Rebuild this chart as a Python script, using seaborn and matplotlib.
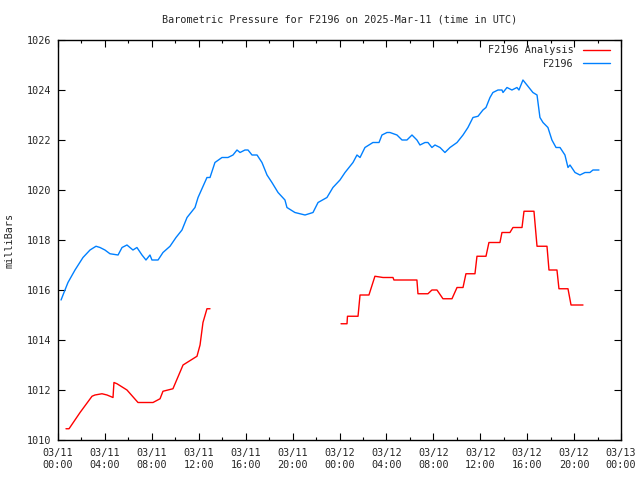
import matplotlib
matplotlib.use("Agg")
import matplotlib.pyplot as plt
import seaborn as sns
import pandas as pd
import numpy as np

# ---- data (hours since 2025-03-11 00:00 UTC, pressure in mb) ----
obs_hours = [0.26, 0.51, 0.85, 1.45, 2.13, 2.73, 3.24, 3.58, 4.0, 4.43, 5.12, 5.46, 5.88,
             6.39, 6.73, 7.16, 7.5, 7.84, 8.01, 8.53, 8.95, 9.55, 10.06, 10.57, 11.0, 11.68,
             11.94, 12.7, 12.96, 13.38, 13.98, 14.49, 14.92, 15.26, 15.52, 15.94, 16.2, 16.54,
             16.97, 17.39, 17.82, 18.24, 18.76, 19.35, 19.52, 20.2, 21.06, 21.74, 22.17, 22.93,
             23.44, 24.04, 24.47, 25.15, 25.49, 25.75, 26.17, 26.85, 27.37, 27.62, 28.05, 28.3,
             28.9, 29.33, 29.75, 30.18, 30.6, 30.86, 31.29, 31.54, 31.88, 32.14, 32.57, 32.99,
             33.42, 34.02, 34.53, 34.95, 35.38, 35.81, 36.23, 36.49, 36.83, 37.08, 37.51, 37.85,
             37.94, 38.28, 38.7, 39.13, 39.3, 39.64, 39.98, 40.49, 40.84, 41.09, 41.35, 41.77,
             42.11, 42.46, 42.8, 43.22, 43.48, 43.65, 44.08, 44.5, 44.93, 45.35, 45.61, 46.12]
obs_press = [1015.6, 1015.9, 1016.3, 1016.8, 1017.3, 1017.6, 1017.75, 1017.7, 1017.6, 1017.45,
             1017.4, 1017.7, 1017.8, 1017.6, 1017.7, 1017.4, 1017.2, 1017.4, 1017.2, 1017.2,
             1017.5, 1017.75, 1018.1, 1018.4, 1018.9, 1019.3, 1019.7, 1020.5, 1020.5, 1021.1,
             1021.3, 1021.3, 1021.4, 1021.6, 1021.5, 1021.6, 1021.6, 1021.4, 1021.4, 1021.1,
             1020.6, 1020.3, 1019.9, 1019.6, 1019.3, 1019.1, 1019.0, 1019.1, 1019.5, 1019.7,
             1020.1, 1020.4, 1020.7, 1021.1, 1021.4, 1021.3, 1021.7, 1021.9, 1021.9, 1022.2,
             1022.3, 1022.3, 1022.2, 1022.0, 1022.0, 1022.2, 1022.0, 1021.8, 1021.9, 1021.9,
             1021.7, 1021.8, 1021.7, 1021.5, 1021.7, 1021.9, 1022.2, 1022.5, 1022.9, 1022.95,
             1023.2, 1023.3, 1023.7, 1023.9, 1024.0, 1024.0, 1023.9, 1024.1, 1024.0, 1024.1,
             1024.0, 1024.4, 1024.2, 1023.9, 1023.8, 1022.9, 1022.7, 1022.5, 1022.0, 1021.7,
             1021.7, 1021.4, 1020.9, 1021.0, 1020.7, 1020.6, 1020.7, 1020.7, 1020.8, 1020.8]

ana_hours = [0.68, 0.94, 1.88, 2.9, 3.15, 3.75, 4.18, 4.69, 4.77, 5.03, 5.88, 6.82, 8.1, 8.7,
             8.95, 9.8, 10.66, 11.0, 11.85, 12.11, 12.36, 12.7, 12.96,
             24.13, 24.64, 24.68, 25.58, 25.75, 26.51, 27.02, 27.71, 28.56, 28.64, 30.6, 30.69,
             31.54, 31.88, 32.31, 32.82, 33.59, 34.02, 34.53, 34.78, 35.55, 35.72, 36.49, 36.74,
             37.68, 37.85, 38.53, 38.79, 39.56, 39.73, 40.58, 40.84, 41.69, 41.86, 42.54, 42.71,
             43.48, 43.74, 44.76]
ana_press = [1010.45, 1010.45, 1011.1, 1011.75, 1011.8, 1011.85, 1011.8, 1011.7, 1012.3, 1012.25,
             1012.0, 1011.5, 1011.5, 1011.65, 1011.95, 1012.05, 1013.0, 1013.1, 1013.35, 1013.8,
             1014.7, 1015.25, 1015.25,
             1014.65, 1014.65, 1014.95, 1014.95, 1015.8, 1015.8, 1016.55, 1016.5, 1016.5, 1016.4,
             1016.4, 1015.85, 1015.85, 1016.0, 1016.0, 1015.65, 1015.65, 1016.1, 1016.1, 1016.65,
             1016.65, 1017.35, 1017.35, 1017.9, 1017.9, 1018.3, 1018.3, 1018.5, 1018.5, 1019.15,
             1019.15, 1017.75, 1017.75, 1016.8, 1016.8, 1016.05, 1016.05, 1015.4, 1015.4]
ana_segment = [0] * 23 + [1] * 39

x_tick_hours = [0, 4, 8, 12, 16, 20, 24, 28, 32, 36, 40, 44, 48]
x_tick_labels = ["03/11\n00:00", "03/11\n04:00", "03/11\n08:00", "03/11\n12:00",
                 "03/11\n16:00", "03/11\n20:00", "03/12\n00:00", "03/12\n04:00",
                 "03/12\n08:00", "03/12\n12:00", "03/12\n16:00", "03/12\n20:00",
                 "03/13\n00:00"]
y_ticks = [1010, 1012, 1014, 1016, 1018, 1020, 1022, 1024, 1026]

title = "Barometric Pressure for F2196 on 2025-Mar-11 (time in UTC)"
ylabel = "milliBars"

# ---- plot ----
sns.set_theme(style="ticks")
plt.rcParams["font.family"] = ["DejaVu Sans Mono", "DejaVu Sans"]
FS = 7.3

fig = plt.figure(figsize=(6.4, 4.8), dpi=100)
ax = fig.add_axes([58 / 640, 1 - 440 / 480, 563 / 640, 400 / 480])

df_ana = pd.DataFrame({"hours": ana_hours, "press": ana_press, "seg": ana_segment})
df_obs = pd.DataFrame({"hours": obs_hours, "press": obs_press})

red = "#ff0000"
blue = "#0080ff"
for i, (s, g) in enumerate(df_ana.groupby("seg")):
    sns.lineplot(data=g, x="hours", y="press", ax=ax, color=red, lw=1.0,
                 estimator=None, sort=False, label="F2196 Analysis" if i == 0 else None)
sns.lineplot(data=df_obs, x="hours", y="press", ax=ax, color=blue, lw=1.0,
             estimator=None, sort=False, label="F2196")

ax.set_xlim(0, 48)
ax.set_ylim(1010, 1026)
ax.set_xticks(x_tick_hours)
ax.set_xticklabels(x_tick_labels, fontsize=FS, linespacing=1.2)
ax.set_xticks(np.arange(0, 49, 2), minor=True)
ax.set_yticks(y_ticks)
ax.set_yticklabels([str(v) for v in y_ticks], fontsize=FS)
ax.tick_params(axis="both", which="major", direction="in", length=5, width=0.8,
               top=True, right=True, color="black", pad=5)
ax.tick_params(axis="x", which="major", pad=6)
ax.tick_params(axis="x", which="minor", direction="in", length=2.5, width=0.8,
               top=True, bottom=True, color="black")
ax.tick_params(axis="y", which="minor", left=False, right=False)
for sp in ax.spines.values():
    sp.set_visible(True)
    sp.set_color("black")
    sp.set_linewidth(1.0)

ax.set_xlabel("")
ax.set_ylabel(ylabel, fontsize=FS)
ax.yaxis.set_label_coords(-0.077, 0.5)
ax.set_title(title, fontsize=FS, pad=12.5)

ax.legend(loc="upper right", frameon=False, markerfirst=False, fontsize=FS,
          handlelength=2.7, handletextpad=0.9, labelspacing=0.3, borderpad=0,
          borderaxespad=0, bbox_to_anchor=(1 - 11 / 563, 1 - 5.5 / 400))

fig.savefig("out.png", dpi=100)
